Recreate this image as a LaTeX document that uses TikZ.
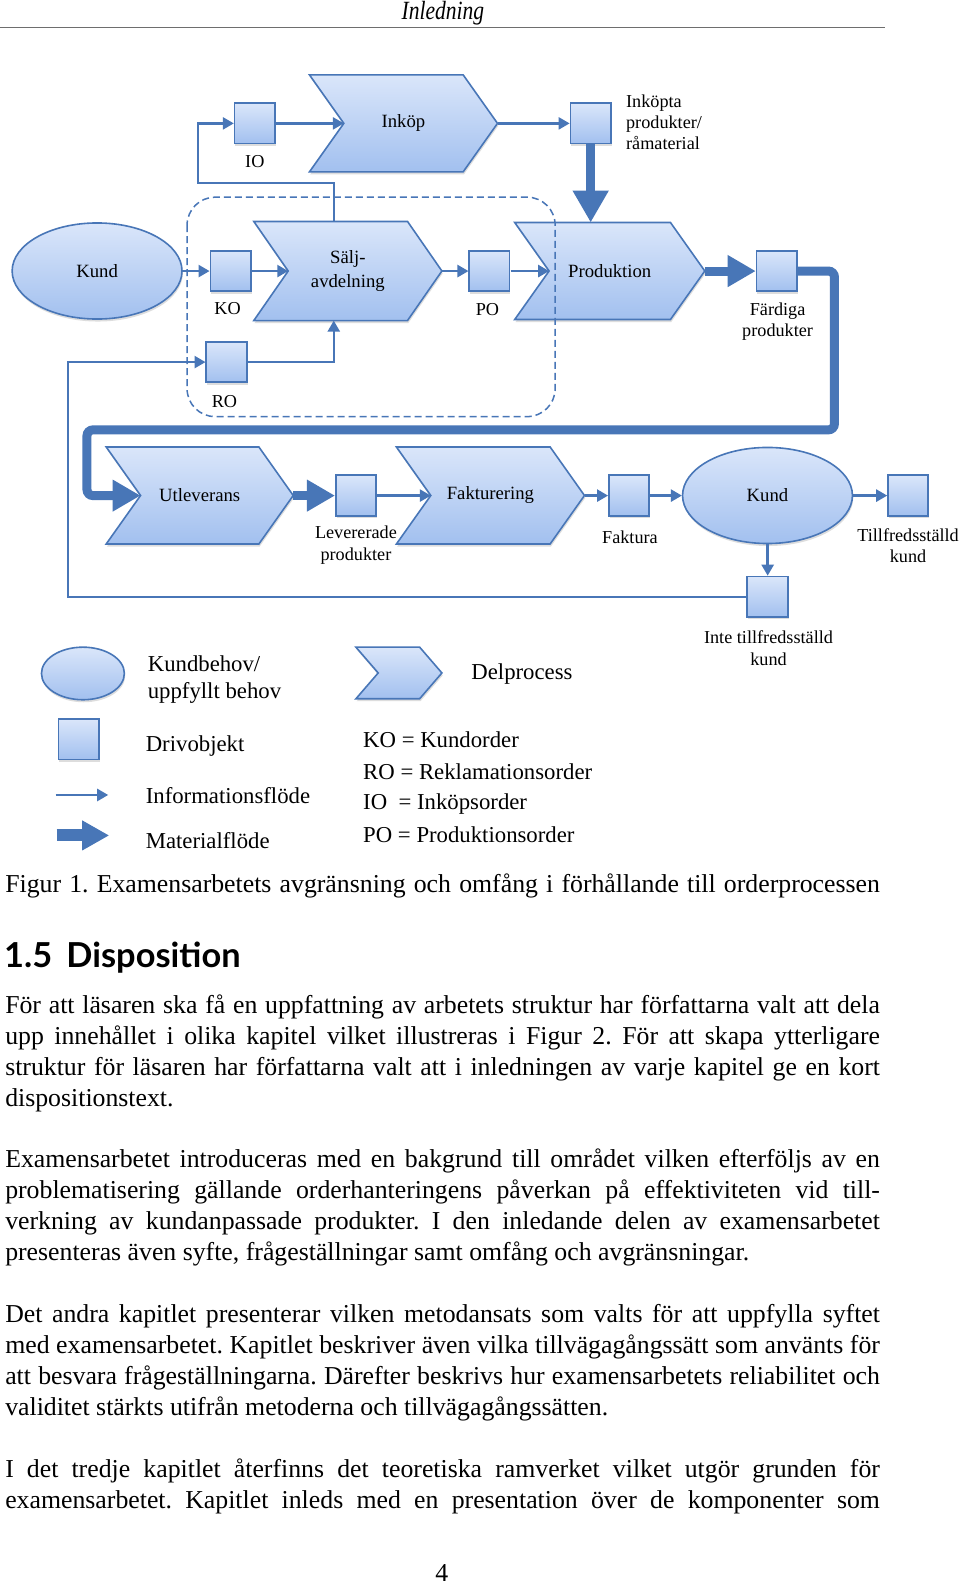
\documentclass[tikz,border=0pt]{standalone}
\usepackage{fontspec}
\setmainfont{Liberation Serif}
\newfontfamily\hdrfont[FakeStretch=0.82]{Liberation Serif}
\newfontfamily\headsans{Lato}
\usetikzlibrary{arrows.meta,shapes.geometric,shadows,calc}
\definecolor{lineblue}{RGB}{72,118,183}
\definecolor{fillTop}{RGB}{218,230,250}
\definecolor{fillBot}{RGB}{162,192,239}
\definecolor{rulegray}{RGB}{110,110,110}
\frenchspacing
\tikzset{
  shp/.style={draw=lineblue, line width=1.6pt, top color=fillTop, bottom color=fillBot,
    drop shadow={opacity=0.22, shadow xshift=0.8pt, shadow yshift=-2.5pt, fill=black!60}},
  box/.style={shp, rectangle, minimum width=40pt, minimum height=40pt, inner sep=0pt},
  blob/.style={shp, ellipse, minimum width=168pt, minimum height=95pt, inner sep=0pt,
    font=\fontsize{18.5}{22}\selectfont},
  lbl/.style={font=\fontsize{18}{21}\selectfont, inner sep=0pt, align=center},
  chevlbl/.style={font=\fontsize{18.5}{22}\selectfont, inner sep=0pt, align=center},
  info/.style={draw=lineblue, line width=2.4pt, -{Triangle[length=11pt,width=12pt]}},
  mat/.style={draw=lineblue, line width=9pt, -{Triangle[length=28pt,width=30pt]}},
  leg/.style={font=\fontsize{22.5}{26}\selectfont, inner sep=0pt, anchor=west, align=left},
  body/.style={font=\fontsize{25.5}{30.6}\selectfont, inner sep=0pt, anchor=base west},
  bound/.style={draw=lineblue, line width=1.5pt, dash pattern=on 7pt off 4pt, rounded corners=28pt},
}
% #1 name, #2 left x, #3 tip x, #4 top y, #5 bottom y, #6 notch depth, #7 text
\newcommand\chevshape[7]{%
  \path[shp] (#2,#4) -- ({#3-#6},#4) -- (#3,{(#4+#5)/2}) -- ({#3-#6},#5) -- (#2,#5)
    -- ({#2+#6},{(#4+#5)/2}) -- cycle;
  \coordinate (#1-w) at ({#2+#6},{(#4+#5)/2});
  \coordinate (#1-e) at (#3,{(#4+#5)/2});
  \node[chevlbl] (#1) at ({(#2+#3)/2},{(#4+#5)/2}) {#7};
}
\newcommand\jl[1]{\makebox[865pt][s]{#1}}
\begin{document}
\begin{tikzpicture}[x=1pt,y=-1pt]
\useasboundingbox (0,0) rectangle (960,1584);
\fill[white] (0,0) rectangle (960,1584);
\begin{scope}[scale=1.0112, transform shape]

% header
\node[font=\hdrfont\itshape\fontsize{26}{28}\selectfont, anchor=base, inner sep=0pt] (hdr) at (438,19) {Inledning};
\draw[rulegray, line width=1.6pt] (0,27) -- (875,27);

% top row
\node[box] (io) at (252,122) {};
\node[lbl] (ioL) at (252,160) {IO};
\chevshape{inkop}{306}{492}{74}{170}{34}{Inköp}
\node[box] (inkopta) at (584,122) {};
\node[lbl, anchor=west, align=left] (inkoptaL) at (619,121) {Inköpta\\produkter/\\råmaterial};

% middle row
\node[blob] (kund1) at (96,268) {Kund};
\node[box] (ko) at (228,268) {};
\node[lbl] (koL) at (225,305) {KO};
\chevshape{salj}{251}{437}{219}{317}{34}{Sälj-\\[1pt]avdelning}
\node[box] (po) at (484,268) {};
\node[lbl] (poL) at (482,306) {PO};
\chevshape{prod}{509}{697}{220}{316}{34}{Produktion}
\node[box] (fard) at (768,268) {};
\node[lbl] (fardL) at (769,318) {Färdiga\\produkter};
\node[box] (ro) at (224,358) {};
\node[lbl] (roL) at (222,397) {RO};

% bottom row
\chevshape{utl}{105}{290}{442}{538}{34}{Utleverans}
\node[box] (lev) at (352,490) {};
\node[lbl] (levL) at (352,539) {Levererade\\produkter};
\chevshape{fakt}{392}{578}{442}{538}{34}{Fakturering}
\node[box] (faktura) at (622,490) {};
\node[lbl] (fakturaL) at (623,531) {Faktura};
\node[blob] (kund2) at (759,490) {Kund};
\node[box] (tillf) at (898,490) {};
\node[lbl] (tillfL) at (898,540) {Tillfredsställd\\kund};
\node[box] (inte) at (759,590) {};
\node[lbl] (inteL) at (760,641) {Inte tillfredsställd\\kund};

% helper coordinates
\coordinate (salj-n) at (330,219);
\coordinate (salj-s) at (330,317);
\coordinate (prod-n) at (584,220);
\coordinate (iobend) at (196,181);
\coordinate (fbx) at (67,590);
\coordinate (loopA) at (825,425);
\coordinate (loopB) at (86,425);

% information flows
\draw[info] (salj-n) |- (iobend) |- (io.west);
\draw[info] (io.east) -- (inkop-w);
\draw[info] (inkop-e) -- (inkopta.west);
\draw[info] (kund1.east) -- (ko.west);
\draw[info] (ko.east) -- (salj-w);
\draw[info] (salj-e) -- (po.west);
\draw[info] (po.east) -- (prod-w);
\draw[info] (ro.east) -| (salj-s);
\draw[info] (inte.west) -- (fbx) |- (ro.west);
\draw[info] (lev.east) -- (fakt-w);
\draw[info] (fakt-e) -- (faktura.west);
\draw[info] (faktura.east) -- (kund2.west);
\draw[info] (kund2.east) -- (tillf.west);
\draw[info] (kund2.south) -- (inte.north);

% material flows
\draw[mat, -{Triangle[length=32pt,width=34pt]}] (inkopta.south) -- (prod-n);
\draw[mat] (prod-e) -- (fard.west);
\draw[mat, rounded corners=6pt] (fard.east) -| (loopA) -- (loopB) |- (utl-w);
\draw[mat] (utl-e) -- (lev.west);

% boundary
\draw[bound] (185,195) rectangle (549,412);

% legend
\node[shp, ellipse, minimum width=82pt, minimum height=52pt, inner sep=0pt] (legKund) at (82,666) {};
\node[leg] (legKundL) at (146,672) {Kundbehov/\\uppfyllt behov};
\chevshape{legChev}{352}{437}{640}{691}{22}{}
\node[leg] (legDelL) at (466,667) {Delprocess};
\node[box] (legBox) at (78,731) {};
\node[leg] (legBoxL) at (144,738) {Drivobjekt};
\coordinate (li1) at (55,786);
\coordinate (li2) at (107,786);
\draw[info] (li1) -- (li2);
\node[leg] (legInfoL) at (144,787) {Informationsflöde};
\coordinate (lm1) at (56,826);
\coordinate (lm2) at (108,826);
\draw[mat, line width=12pt, -{Triangle[length=27pt,width=28pt]}] (lm1) -- (lm2);
\node[leg] (legMatL) at (144,831) {Materialflöde};
\node[leg] (abbr1) at (359,732) {KO = Kundorder};
\node[leg] (abbr2) at (359,763) {RO = Reklamationsorder};
\node[leg] (abbr3) at (359,795) {IO\ \ = Inköpsorder};
\node[leg] (abbr4) at (359,825) {PO = Produktionsorder};

% caption, heading, body
\node[body] (cap) at (5,883) {\jl{Figur 1. Examensarbetets avgränsning och omfång i förhållande till orderprocessen}};
\node[font=\headsans\bfseries\fontsize{34}{37}\selectfont, anchor=base west, inner sep=0pt] (h15) at (4,957) {1.5\hspace{14pt}Disposition};

\node[body] (p1a) at (5,1002.0) {\jl{För att läsaren ska få en uppfattning av arbetets struktur har författarna valt att dela}};
\node[body] (p1b) at (5,1032.6) {\jl{upp innehållet i olika kapitel vilket illustreras i Figur 2. För att skapa ytterligare}};
\node[body] (p1c) at (5,1063.2) {\jl{struktur för läsaren har författarna valt att i inledningen av varje kapitel ge en kort}};
\node[body] (p1d) at (5,1093.8) {dispositionstext.};

\node[body] (p2a) at (5,1155.0) {\jl{Examensarbetet introduceras med en bakgrund till området vilken efterföljs av en}};
\node[body] (p2b) at (5,1185.6) {\jl{problematisering gällande orderhanteringens påverkan på effektiviteten vid till-}};
\node[body] (p2c) at (5,1216.2) {\jl{verkning av kundanpassade produkter. I den inledande delen av examensarbetet}};
\node[body] (p2d) at (5,1246.8) {presenteras även syfte, frågeställningar samt omfång och avgränsningar.};

\node[body] (p3a) at (5,1308.0) {\jl{Det andra kapitlet presenterar vilken metodansats som valts för att uppfylla syftet}};
\node[body] (p3b) at (5,1338.6) {\jl{med examensarbetet. Kapitlet beskriver även vilka tillvägagångssätt som använts för}};
\node[body] (p3c) at (5,1369.2) {\jl{att besvara frågeställningarna. Därefter beskrivs hur examensarbetets reliabilitet och}};
\node[body] (p3d) at (5,1399.8) {validitet stärkts utifrån metoderna och tillvägagångssätten.};

\node[body] (p4a) at (5,1461.0) {\jl{I det tredje kapitlet återfinns det teoretiska ramverket vilket utgör grunden för}};
\node[body] (p4b) at (5,1491.6) {\jl{examensarbetet. Kapitlet inleds med en presentation över de komponenter som}};

\node[font=\fontsize{25.5}{28}\selectfont, anchor=base, inner sep=0pt] (pg) at (437,1564) {4};
\end{scope}
\end{tikzpicture}
\end{document}
